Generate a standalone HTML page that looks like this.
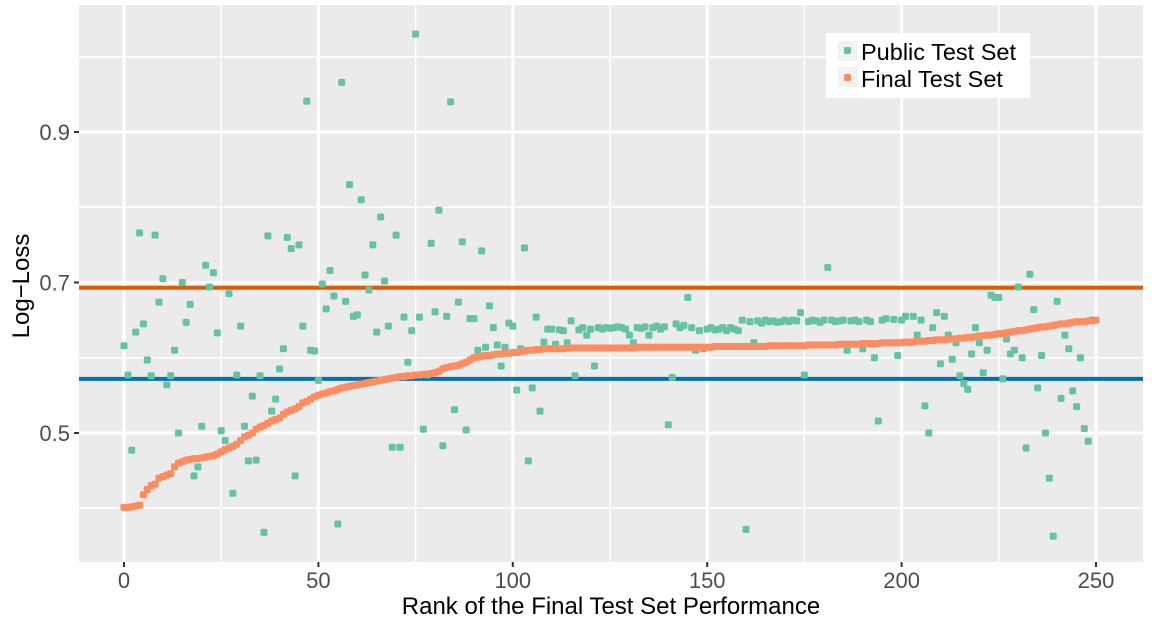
<!DOCTYPE html>
<html><head><meta charset="utf-8"><style>
body{margin:0;background:#fff;}
svg{display:block;font-family:"Liberation Sans",Arial,sans-serif;}
</style></head><body>
<svg id="chart" width="1152" height="630" viewBox="0 0 1152 630">
<rect x="79" y="5" width="1064" height="557" fill="#ebebeb"/>
<g id="grid"></g>
<g id="refs"></g>
<g id="pts"></g>
<g id="axes"></g>
<text x="611" y="614" font-size="24" text-anchor="middle" fill="#000">Rank of the Final Test Set Performance</text>
<text transform="translate(29,286) rotate(-90)" font-size="24" text-anchor="middle" fill="#000">Log−Loss</text>
<g>
<rect x="826" y="33" width="204" height="65" fill="#fff"/>
<rect x="838" y="41" width="20" height="20" fill="#f2f2f2"/>
<rect x="844" y="47" width="7" height="7" rx="1.5" fill="#66c2a5"/>
<text x="861" y="60" font-size="23.5" fill="#000">Public Test Set</text>
<rect x="838" y="67" width="20" height="20" fill="#f2f2f2"/>
<rect x="844" y="74" width="7" height="7" rx="1.5" fill="#fc8d62"/>
<text x="861" y="87" font-size="23.5" fill="#000">Final Test Set</text>
</g>
</svg>
<script>
const xTicks=[0,50,100,150,200,250];
const yTicks=[0.5,0.7,0.9];
const yTickLabels=["0.5","0.7","0.9"];
const refValues=[0.693,0.572];
const refColors=["#d95f02","#0570b0"];
const publicValues=[0.616,0.577,0.477,0.634,0.766,0.645,0.597,0.576,0.763,0.674,
0.705,0.564,0.576,0.61,0.50,0.70,0.647,0.671,0.443,0.455,
0.509,0.723,0.694,0.713,0.633,0.503,0.49,0.685,0.42,0.577,
0.642,0.509,0.463,0.549,0.464,0.576,0.368,0.762,0.529,0.545,
0.585,0.612,0.760,0.745,0.443,0.75,0.642,0.941,0.61,0.609,
0.57,0.698,0.665,0.716,0.682,0.379,0.966,0.675,0.83,0.655,
0.657,0.81,0.71,0.69,0.75,0.634,0.787,0.702,0.642,0.481,
0.763,0.481,0.654,0.594,0.636,1.03,0.654,0.505,0.577,0.752,
0.661,0.796,0.483,0.655,0.94,0.531,0.674,0.754,0.504,0.652,
0.652,0.61,0.742,0.614,0.669,0.64,0.617,0.589,0.614,0.646,
0.642,0.557,0.612,0.746,0.463,0.56,0.654,0.529,0.621,0.638,
0.638,0.618,0.637,0.636,0.62,0.649,0.576,0.637,0.64,0.63,0.638,
0.589,0.64,0.638,0.64,0.639,0.64,0.641,0.64,0.638,0.63,
0.62,0.64,0.639,0.641,0.63,0.64,0.642,0.638,0.641,0.511,
0.574,0.645,0.64,0.643,0.68,0.64,0.61,0.636,0.612,0.638,
0.64,0.637,0.638,0.64,0.636,0.64,0.638,0.636,0.65,0.372,
0.648,0.62,0.649,0.646,0.65,0.648,0.649,0.647,0.648,0.65,
0.648,0.65,0.649,0.66,0.577,0.648,0.65,0.649,0.647,0.65,
0.72,0.65,0.648,0.649,0.65,0.61,0.649,0.65,0.648,0.612,
0.65,0.648,0.6,0.516,0.65,0.652,0.62,0.651,0.603,0.65,
0.655,0.62,0.655,0.63,0.65,0.536,0.5,0.64,0.66,0.592,
0.655,0.63,0.598,0.62,0.576,0.566,0.558,0.605,0.64,0.62,
0.58,0.61,0.683,0.68,0.68,0.572,0.625,0.605,0.61,0.694,
0.6,0.48,0.711,0.664,0.56,0.603,0.5,0.44,0.363,0.675,
0.546,0.63,0.612,0.556,0.535,0.6,0.506,0.489,0.65];
const finalValues=[0.401,0.401,0.402,0.403,0.404,0.418,0.425,0.43,0.432,0.44,
0.442,0.444,0.446,0.455,0.46,0.462,0.464,0.465,0.466,0.466,
0.467,0.468,0.469,0.47,0.472,0.475,0.478,0.48,0.482,0.485,
0.49,0.495,0.497,0.5,0.505,0.508,0.51,0.513,0.516,0.518,
0.52,0.525,0.528,0.53,0.532,0.535,0.54,0.542,0.545,0.548,
0.55,0.552,0.553,0.555,0.556,0.558,0.56,0.561,0.562,0.563,
0.564,0.565,0.566,0.567,0.568,0.569,0.57,0.571,0.572,0.573,
0.574,0.575,0.575,0.576,0.576,0.577,0.577,0.578,0.578,0.579,
0.58,0.582,0.585,0.587,0.588,0.589,0.59,0.592,0.594,0.597,
0.6,0.601,0.602,0.603,0.603,0.604,0.605,0.605,0.606,0.606,
0.607,0.607,0.608,0.609,0.61,0.61,0.611,0.611,0.612,0.612,
0.612,0.612,0.612,0.612,0.613,0.613,0.613,0.613,0.613,0.613,
0.613,0.613,0.613,0.613,0.613,0.613,0.613,0.613,0.613,0.613,
0.613,0.613,0.614,0.614,0.614,0.614,0.614,0.614,0.614,0.614,
0.614,0.614,0.614,0.614,0.614,0.614,0.614,0.614,0.614,0.614,
0.614,0.614,0.615,0.615,0.615,0.615,0.615,0.615,0.615,0.615,
0.615,0.615,0.615,0.615,0.615,0.615,0.616,0.616,0.616,0.616,
0.616,0.616,0.616,0.616,0.616,0.616,0.617,0.617,0.617,0.617,
0.617,0.617,0.617,0.617,0.618,0.618,0.618,0.618,0.618,0.618,
0.619,0.619,0.619,0.619,0.619,0.62,0.62,0.62,0.62,0.62,
0.62,0.621,0.621,0.621,0.622,0.622,0.622,0.623,0.623,0.624,
0.624,0.624,0.625,0.625,0.625,0.626,0.626,0.627,0.627,0.628,
0.629,0.629,0.63,0.63,0.631,0.632,0.632,0.633,0.634,0.635,
0.636,0.636,0.637,0.638,0.639,0.64,0.641,0.641,0.642,0.643,
0.644,0.645,0.645,0.646,0.647,0.648,0.648,0.648,0.649,0.649,0.65];

const NS="http://www.w3.org/2000/svg";
const X0=79,X1=1143,Y0=5,Y1=562;
const xs=v=>124+v*(1096-124)/250;
const ys=v=>433-(v-0.5)*752.5;
function mk(tag,attrs,parent){const e=document.createElementNS(NS,tag);for(const k in attrs)e.setAttribute(k,attrs[k]);parent.appendChild(e);return e;}
const grid=document.getElementById('grid');
for(let v=0.4;v<=1.0001;v+=0.1){
  const major=yTicks.some(t=>Math.abs(t-v)<1e-6);
  const l=mk('line',{x1:X0,x2:X1,y1:ys(v),y2:ys(v),stroke:'#fff','stroke-width':major?3:1.5},grid);
  
  
}
for(let v=-25;v<=275;v+=25){
  const major=v%50===0;
  const x=xs(v); if(x<X0||x>X1)continue;
  const l=mk('line',{x1:x,x2:x,y1:Y0,y2:Y1,stroke:'#fff','stroke-width':major?3:1.5},grid);
  
  
}
const refs=document.getElementById('refs');
refValues.forEach((v,i)=>{
  const l=mk('line',{x1:X0,x2:X1,y1:ys(v),y2:ys(v),stroke:refColors[i],'stroke-width':4},refs);
  
  
});
const pts=document.getElementById('pts');
publicValues.forEach((v,i)=>{
  const r=mk('rect',{x:xs(i)-3.5,y:ys(v)-3.5,width:7,height:7,rx:1.5,fill:'#66c2a5'},pts);
  
  
});
finalValues.forEach((v,i)=>{
  const r=mk('rect',{x:xs(i)-3.5,y:ys(v)-3.5,width:7,height:7,rx:1.5,fill:'#fc8d62'},pts);
  
  
});
const axes=document.getElementById('axes');
yTicks.forEach((v,i)=>{
  const t=mk('line',{x1:74,x2:79,y1:ys(v),y2:ys(v),stroke:'#333','stroke-width':2},axes);
  
  
  const s=mk('text',{x:70,y:ys(v)+8,'font-size':22,'text-anchor':'end',fill:'#4d4d4d'},axes);
  s.textContent=yTickLabels[i];
  
  
});
xTicks.forEach(v=>{
  const t=mk('line',{x1:xs(v),x2:xs(v),y1:562,y2:567,stroke:'#333','stroke-width':2},axes);
  
  
  const s=mk('text',{x:xs(v),y:588,'font-size':22,'text-anchor':'middle',fill:'#4d4d4d'},axes);
  s.textContent=String(v);
  
  
});
</script>
</body></html>
